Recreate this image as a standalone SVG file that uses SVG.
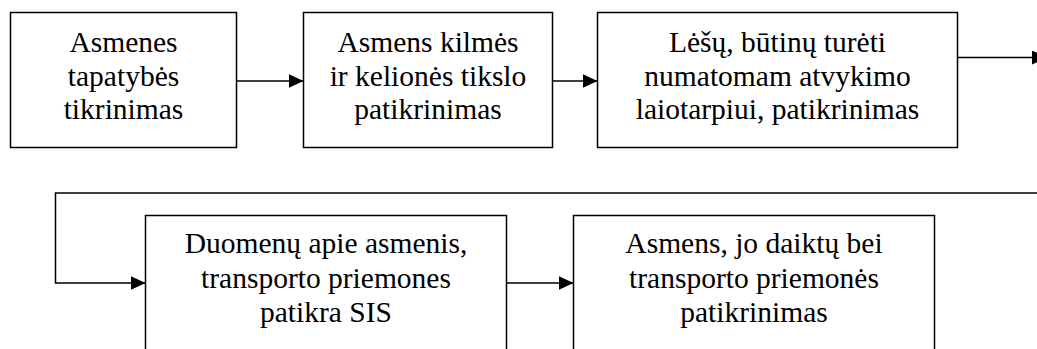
<svg xmlns="http://www.w3.org/2000/svg" width="1037" height="349" viewBox="0 0 1037 349">
<style>
.box{fill:#fff;stroke:#000;stroke-width:1.5}
.t{font-family:"Liberation Serif","Times New Roman",serif;font-size:29.5px;fill:#000;text-anchor:middle}
.c{fill:none;stroke:#000;stroke-width:1.5}
</style>
<defs>
<marker id="ah" markerWidth="15" markerHeight="14" refX="15" refY="7" orient="auto" markerUnits="userSpaceOnUse" viewBox="0 0 15 14">
<path d="M0,0 L15,7 L0,14 Z" fill="#000"/>
</marker>
</defs>
<g id="n1"><rect class="box" x="10.5" y="12.5" width="226" height="135"/>
<text class="t" x="123.5" y="52">Asmenes</text>
<text class="t" x="123.5" y="85.5">tapatybės</text>
<text class="t" x="123.5" y="119">tikrinimas</text></g>
<g id="n2"><rect class="box" x="303.5" y="12.5" width="249" height="135"/>
<text class="t" x="428" y="52">Asmens kilmės</text>
<text class="t" x="428" y="85.5">ir kelionės tikslo</text>
<text class="t" x="428" y="119">patikrinimas</text></g>
<g id="n3"><rect class="box" x="597.5" y="12.5" width="360" height="135"/>
<text class="t" x="777.5" y="52">Lėšų, būtinų turėti</text>
<text class="t" x="777.5" y="85.5">numatomam atvykimo</text>
<text class="t" x="777.5" y="119">laiotarpiui, patikrinimas</text></g>
<g id="n4"><rect class="box" x="145.5" y="215.5" width="361" height="150"/>
<text class="t" x="326" y="253">Duomenų apie asmenis,</text>
<text class="t" x="326" y="287.5">transporto priemones</text>
<text class="t" x="326" y="322">patikra SIS</text></g>
<g id="n5"><rect class="box" x="573.5" y="215.5" width="361" height="150"/>
<text class="t" x="754" y="253">Asmens, jo daiktų bei</text>
<text class="t" x="754" y="287.5">transporto priemonės</text>
<text class="t" x="754" y="322">patikrinimas</text></g>
<g id="connectors">
<line class="c" x1="236.5" y1="81" x2="303.5" y2="81" marker-end="url(#ah)"/>
<line class="c" x1="552.5" y1="81" x2="597.5" y2="81" marker-end="url(#ah)"/>
<line class="c" x1="957.5" y1="57.5" x2="1047" y2="57.5" marker-end="url(#ah)"/>
<polyline class="c" points="1037,193 55.5,193 55.5,283 145.5,283" marker-end="url(#ah)"/>
<line class="c" x1="506.5" y1="283" x2="573.5" y2="283" marker-end="url(#ah)"/>
</g>
</svg>
